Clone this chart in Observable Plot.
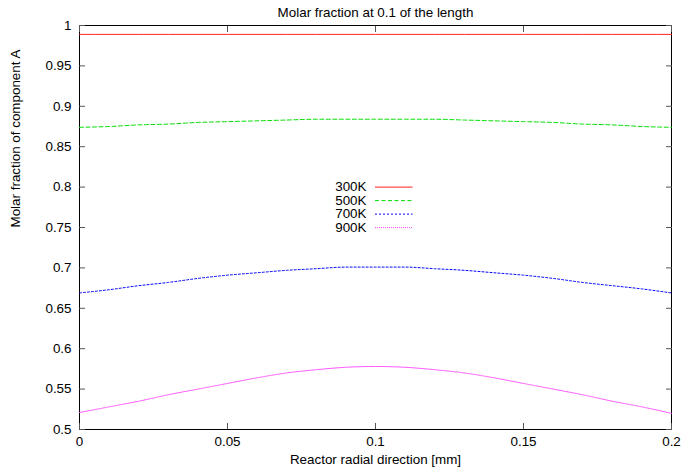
<!DOCTYPE html>
<html>
<head>
<meta charset="utf-8">
<script src="https://cdn.jsdelivr.net/npm/d3@7"></script>
<script src="https://cdn.jsdelivr.net/npm/@observablehq/plot@0.6"></script>
<style>
  html, body { margin: 0; padding: 0; background: #fff; }
</style>
</head>
<body>
<div id="chart"></div>
<script>
// Radial positions across the reactor [mm]
const radial = [0, 0.01, 0.02, 0.03, 0.04, 0.05, 0.06, 0.07, 0.08, 0.09, 0.1,
                0.11, 0.12, 0.13, 0.14, 0.15, 0.16, 0.17, 0.18, 0.19, 0.2];

// Molar fraction of component A at 0.1 of the reactor length, per temperature
const seriesNames = ["300K", "500K", "700K", "900K"];
const frac300 = [0.989, 0.989, 0.989, 0.989, 0.989, 0.989, 0.989, 0.989, 0.989, 0.989, 0.989,
                 0.989, 0.989, 0.989, 0.989, 0.989, 0.989, 0.989, 0.989, 0.989, 0.989];
const frac500 = [0.874, 0.875, 0.877, 0.878, 0.880, 0.881, 0.882, 0.883, 0.884, 0.884, 0.884,
                 0.884, 0.884, 0.883, 0.882, 0.881, 0.880, 0.878, 0.877, 0.875, 0.874];
const frac700 = [0.669, 0.673, 0.678, 0.682, 0.687, 0.691, 0.694, 0.697, 0.699, 0.701, 0.701,
                 0.701, 0.699, 0.697, 0.694, 0.691, 0.687, 0.682, 0.678, 0.674, 0.669];
const frac900 = [0.521, 0.528, 0.535, 0.543, 0.550, 0.557, 0.564, 0.570, 0.574, 0.577, 0.578,
                 0.577, 0.574, 0.570, 0.564, 0.557, 0.550, 0.543, 0.535, 0.528, 0.520];

// Axis ticks and their labels
const xTicks = [0, 0.05, 0.1, 0.15, 0.2];
const xTickLabels = ["0", "0.05", "0.1", "0.15", "0.2"];
const yTicks = [0.5, 0.55, 0.6, 0.65, 0.7, 0.75, 0.8, 0.85, 0.9, 0.95, 1];
const yTickLabels = ["0.5", "0.55", "0.6", "0.65", "0.7", "0.75", "0.8", "0.85", "0.9", "0.95", "1"];

const titleText = "Molar fraction at 0.1 of the length";
const xLabel = "Reactor radial direction [mm]";
const yLabel = "Molar fraction of component A";

// Line styles (gnuplot-like line types)
const styles = [
  {stroke: "#ff2020", dash: null},
  {stroke: "#00e000", dash: "4,2.5"},
  {stroke: "#0000ff", dash: "2,2"},
  {stroke: "#ff44ff", dash: "1,1"}
];

const allSeries = [frac300, frac500, frac700, frac900];
const rows = allSeries.map((vals, s) =>
  vals.map((v, i) => ({x: radial[i], y: v, series: seriesNames[s]})));

// Key placement in data space, row spacing in pixels
const keyX = 0.1, keyY = 0.8, keyLen = 0.0127, keyRow = 13.5;

const font = "'Liberation Sans', Arial, Helvetica, sans-serif";
const tick = 6;

const marks = [
  Plot.frame({stroke: "#000", strokeWidth: 1}),
  // tick labels
  Plot.axisX(xTicks, {anchor: "bottom", tickSize: 0, tickPadding: 7,
    tickFormat: d => xTickLabels[xTicks.indexOf(d)], label: null}),
  Plot.axisY(yTicks, {anchor: "left", tickSize: 0, tickPadding: 8,
    tickFormat: d => yTickLabels[yTicks.indexOf(d)], label: null}),
  // inward tick marks on all four sides
  Plot.axisX(xTicks, {anchor: "bottom", tickSize: tick, dy: -tick, text: null, label: null, stroke: "#555"}),
  Plot.axisX(xTicks, {anchor: "top", tickSize: tick, dy: tick, text: null, label: null, stroke: "#555"}),
  Plot.axisY(yTicks, {anchor: "left", tickSize: tick, dx: tick, text: null, label: null, stroke: "#555"}),
  Plot.axisY(yTicks, {anchor: "right", tickSize: tick, dx: -tick, text: null, label: null, stroke: "#555"}),
  // titles
  Plot.text([titleText], {frameAnchor: "top", dy: -18, fill: "#000"}),
  Plot.text([xLabel], {frameAnchor: "bottom", dy: 34, fill: "#000"}),
  Plot.text([yLabel], {frameAnchor: "left", dx: -64, rotate: -90, fill: "#000"})
];

rows.forEach((data, s) => {
  marks.push(Plot.line(data, {x: "x", y: "y", stroke: styles[s].stroke, strokeWidth: 1,
    strokeDasharray: styles[s].dash, curve: "monotone-x"}));
  // key entry
  marks.push(Plot.text([seriesNames[s]], {x: () => keyX, y: () => keyY, dx: -9, dy: s * keyRow,
    textAnchor: "end", fill: "#000"}));
  marks.push(Plot.ruleY([keyY], {x1: keyX, x2: keyX + keyLen, dy: s * keyRow,
    stroke: styles[s].stroke, strokeWidth: 1, strokeDasharray: styles[s].dash}));
});

const chart = Plot.plot({
  width: 681,
  height: 476,
  marginLeft: 79,
  marginRight: 10,
  marginTop: 25,
  marginBottom: 47,
  style: {fontFamily: font, fontSize: "13.4px", color: "#000", background: "#fff"},
  x: {domain: [0, 0.2]},
  y: {domain: [0.5, 1]},
  marks
});
document.getElementById("chart").appendChild(chart);
</script>
</body>
</html>
